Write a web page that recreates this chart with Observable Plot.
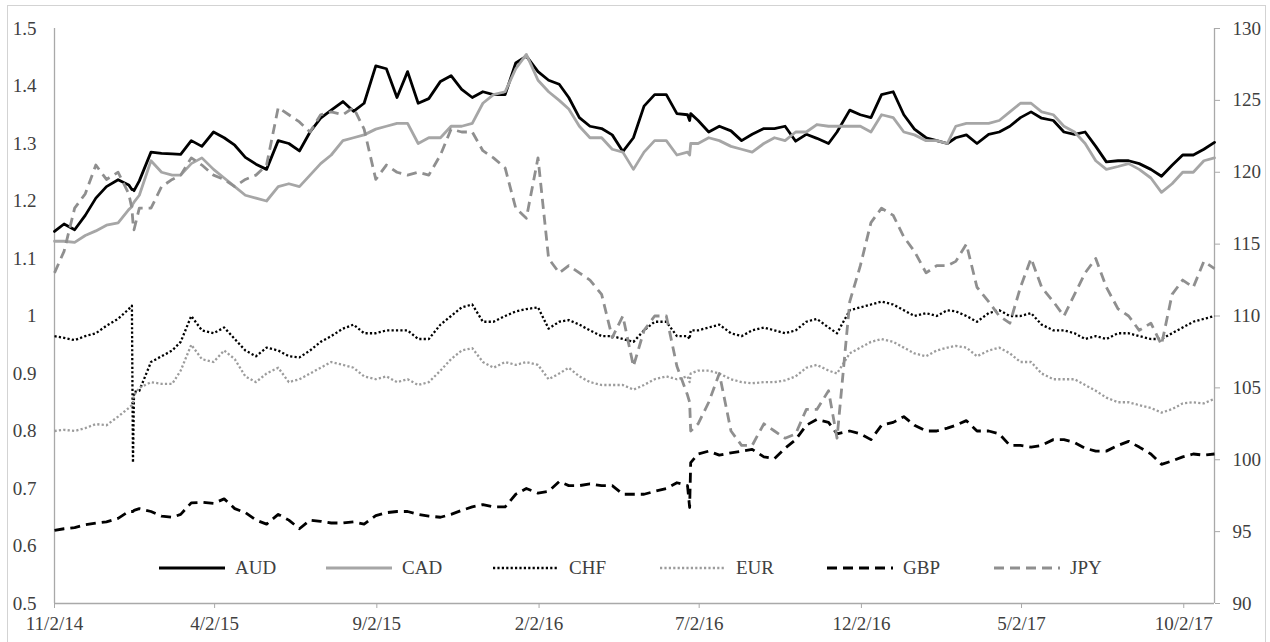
<!DOCTYPE html>
<html>
<head>
<meta charset="utf-8">
<script src="https://cdn.jsdelivr.net/npm/d3@7"></script>
<script src="https://cdn.jsdelivr.net/npm/@observablehq/plot@0.6"></script>
<style>
  html, body { margin: 0; padding: 0; background: #fff; }
  #wrap { position: relative; width: 1270px; height: 642px; overflow: hidden; font-family: "Liberation Serif", "DejaVu Serif", serif; }
  #chart svg { display: block; }
  #frame { position: absolute; left: 7px; top: 5px; width: 1259px; height: 640px; border: 1px solid #d3d3d3; box-sizing: border-box; pointer-events: none; }
  #legend { position: absolute; left: 158px; top: 556px; display: flex; pointer-events: none; }
  .item { display: flex; align-items: center; width: 167px; font-size: 19px; color: #404040; }
  .item svg { display: block; margin-right: 9px; }
</style>
</head>
<body>
<div id="wrap">
  <div id="chart"></div>
  <div id="legend"></div>
  <div id="frame"></div>
</div>
<script>
// ---- data ----
const dates = [
"2014-11-02","2014-11-11","2014-11-21","2014-12-01","2014-12-11","2014-12-21",
"2015-01-01","2015-01-11","2015-01-14","2015-01-15","2015-01-16","2015-01-21",
"2015-02-01","2015-02-11","2015-02-21","2015-03-01","2015-03-11","2015-03-21",
"2015-04-01","2015-04-11","2015-04-21","2015-05-01","2015-05-11","2015-05-21",
"2015-06-01","2015-06-11","2015-06-21","2015-07-01","2015-07-11","2015-07-21",
"2015-08-01","2015-08-11","2015-08-21","2015-09-01","2015-09-11","2015-09-21",
"2015-10-01","2015-10-11","2015-10-21","2015-11-01","2015-11-11","2015-11-21",
"2015-12-01","2015-12-11","2015-12-21","2016-01-01","2016-01-11","2016-01-21",
"2016-02-01","2016-02-11","2016-02-21","2016-03-01","2016-03-11","2016-03-21",
"2016-04-01","2016-04-11","2016-04-21","2016-05-01","2016-05-11","2016-05-21",
"2016-06-01","2016-06-11","2016-06-21","2016-06-23","2016-06-24","2016-07-01",
"2016-07-11","2016-07-21","2016-08-01","2016-08-11","2016-08-21","2016-09-01",
"2016-09-11","2016-09-21","2016-10-01","2016-10-11","2016-10-21","2016-11-01",
"2016-11-09","2016-11-21","2016-12-01","2016-12-11","2016-12-21","2017-01-01",
"2017-01-11","2017-01-21","2017-02-01","2017-02-11","2017-02-21","2017-03-01",
"2017-03-11","2017-03-21","2017-04-01","2017-04-11","2017-04-21","2017-05-01",
"2017-05-11","2017-05-21","2017-06-01","2017-06-11","2017-06-21","2017-07-01",
"2017-07-11","2017-07-21","2017-08-01","2017-08-11","2017-08-21","2017-09-01",
"2017-09-11","2017-09-21","2017-10-01","2017-10-11","2017-10-21","2017-10-31"
];

const aud = [
1.147,1.16,1.15,1.175,1.205,1.225,
1.237,1.228,1.22,1.22,1.218,1.235,
1.285,1.283,1.282,1.281,1.305,1.295,
1.32,1.31,1.297,1.276,1.264,1.255,
1.305,1.30,1.287,1.32,1.344,1.358,
1.373,1.356,1.37,1.435,1.43,1.38,
1.425,1.37,1.378,1.408,1.418,1.394,
1.38,1.39,1.385,1.385,1.44,1.452,
1.425,1.41,1.403,1.38,1.345,1.33,
1.326,1.315,1.286,1.31,1.365,1.385,
1.385,1.352,1.35,1.34,1.352,1.34,
1.32,1.33,1.322,1.305,1.316,1.326,
1.326,1.33,1.304,1.316,1.309,1.30,
1.32,1.358,1.35,1.345,1.385,1.39,
1.35,1.325,1.31,1.305,1.30,1.31,
1.315,1.30,1.316,1.32,1.33,1.345,
1.355,1.344,1.34,1.32,1.316,1.32,
1.295,1.268,1.27,1.27,1.265,1.255,
1.243,1.262,1.28,1.28,1.29,1.302
];

const cad = [
1.13,1.13,1.128,1.14,1.148,1.158,
1.162,1.185,1.19,1.195,1.198,1.21,
1.27,1.25,1.245,1.245,1.265,1.275,
1.255,1.24,1.225,1.21,1.205,1.20,
1.225,1.23,1.225,1.245,1.265,1.28,
1.305,1.31,1.315,1.325,1.33,1.335,
1.335,1.30,1.31,1.31,1.33,1.33,
1.335,1.37,1.385,1.39,1.43,1.455,
1.41,1.39,1.375,1.36,1.33,1.31,
1.31,1.29,1.285,1.255,1.285,1.305,
1.305,1.28,1.285,1.28,1.30,1.30,
1.31,1.305,1.295,1.29,1.285,1.30,
1.31,1.305,1.32,1.32,1.333,1.33,
1.33,1.33,1.33,1.32,1.35,1.345,
1.32,1.315,1.305,1.305,1.30,1.33,
1.335,1.335,1.335,1.34,1.355,1.37,
1.37,1.355,1.35,1.33,1.32,1.30,
1.27,1.255,1.26,1.265,1.255,1.24,
1.215,1.23,1.25,1.25,1.27,1.275
];

const chf = [
0.965,0.962,0.958,0.965,0.97,0.983,
0.995,1.012,1.018,0.745,0.868,0.87,
0.92,0.93,0.94,0.955,1.0,0.975,
0.97,0.98,0.96,0.94,0.93,0.945,
0.94,0.93,0.928,0.94,0.955,0.965,
0.978,0.985,0.97,0.97,0.975,0.975,
0.975,0.96,0.96,0.985,1.0,1.015,
1.02,0.99,0.99,1.0,1.008,1.012,
1.015,0.978,0.99,0.993,0.985,0.975,
0.965,0.965,0.96,0.955,0.975,0.99,
0.99,0.965,0.965,0.96,0.975,0.975,
0.98,0.985,0.97,0.965,0.975,0.98,
0.975,0.97,0.975,0.99,0.995,0.98,
0.97,1.01,1.015,1.02,1.025,1.02,
1.01,1.0,1.005,1.0,1.01,1.008,
1.0,0.99,1.005,1.01,1.0,1.0,
1.005,0.985,0.975,0.975,0.97,0.96,
0.965,0.96,0.97,0.97,0.965,0.96,
0.96,0.97,0.98,0.99,0.995,1.0
];

const eur = [
0.80,0.802,0.80,0.805,0.812,0.81,
0.825,0.84,0.845,0.85,0.862,0.875,
0.885,0.882,0.882,0.905,0.95,0.925,
0.92,0.94,0.925,0.895,0.885,0.90,
0.91,0.885,0.89,0.90,0.91,0.92,
0.915,0.91,0.895,0.89,0.895,0.885,
0.89,0.88,0.885,0.905,0.925,0.94,
0.944,0.92,0.91,0.92,0.915,0.92,
0.915,0.89,0.90,0.91,0.895,0.885,
0.88,0.88,0.88,0.872,0.88,0.89,
0.895,0.89,0.895,0.885,0.90,0.905,
0.905,0.90,0.89,0.885,0.883,0.885,
0.885,0.888,0.895,0.91,0.915,0.905,
0.90,0.935,0.945,0.955,0.96,0.955,
0.945,0.935,0.93,0.94,0.945,0.948,
0.945,0.93,0.94,0.945,0.935,0.92,
0.92,0.90,0.89,0.89,0.89,0.88,
0.87,0.858,0.85,0.85,0.845,0.84,
0.832,0.838,0.848,0.85,0.848,0.856
];

const gbp = [
0.627,0.63,0.632,0.637,0.64,0.642,
0.648,0.66,0.66,0.66,0.662,0.665,
0.66,0.652,0.65,0.655,0.675,0.676,
0.674,0.682,0.665,0.658,0.645,0.638,
0.655,0.645,0.63,0.645,0.643,0.64,
0.64,0.642,0.638,0.653,0.658,0.66,
0.66,0.655,0.652,0.65,0.655,0.662,
0.668,0.672,0.668,0.668,0.69,0.70,
0.692,0.695,0.712,0.705,0.705,0.708,
0.705,0.705,0.69,0.69,0.69,0.695,
0.70,0.71,0.705,0.667,0.745,0.76,
0.765,0.758,0.762,0.765,0.768,0.755,
0.752,0.77,0.785,0.81,0.82,0.815,
0.795,0.80,0.795,0.785,0.81,0.815,
0.825,0.81,0.80,0.80,0.805,0.81,
0.818,0.80,0.80,0.795,0.775,0.775,
0.772,0.775,0.785,0.785,0.78,0.77,
0.765,0.765,0.775,0.782,0.772,0.76,
0.742,0.748,0.755,0.76,0.758,0.76
];

// JPY is read on the right-hand axis
const jpy = [
113.0,114.5,117.5,118.5,120.5,119.5,
120.0,118.5,117.5,116.5,116.0,117.5,
117.5,119.0,119.5,119.8,121.0,120.5,
119.8,119.5,119.0,119.5,119.8,120.5,
124.5,124.0,123.5,122.8,124.0,124.2,
124.0,124.5,123.0,119.5,120.5,120.0,
119.8,120.0,119.8,121.2,123.0,122.8,
122.8,121.5,121.0,120.3,117.5,116.8,
121.0,114.0,113.0,113.5,113.0,112.5,
111.5,108.5,110.0,106.5,109.0,110.0,
110.0,106.5,104.5,104.0,102.0,102.5,
104.0,106.0,102.0,101.0,101.0,102.5,
102.0,101.5,101.8,103.5,103.5,104.8,
101.5,111.0,113.5,116.5,117.5,117.0,
115.5,114.5,113.0,113.5,113.5,113.8,
115.0,112.0,111.0,110.0,109.5,112.0,
114.0,112.0,111.0,110.0,111.5,113.0,
114.0,112.0,110.5,110.0,109.0,109.5,
108.0,111.5,112.5,112.0,113.8,113.3
];

const leftTicks = [0.5,0.6,0.7,0.8,0.9,1.0,1.1,1.2,1.3,1.4,1.5];
const rightTicks = [90,95,100,105,110,115,120,125,130];
const xTickDates = ["2014-11-02","2015-04-02","2015-09-02","2016-02-02","2016-07-02","2016-12-02","2017-05-02","2017-10-02"];
const xTickLabels = ["11/2/14","4/2/15","9/2/15","2/2/16","7/2/16","12/2/16","5/2/17","10/2/17"];
const xDomain = ["2014-11-02","2017-10-31"];
const leftDomain = [0.5, 1.5];
const rightDomain = [90, 130];

// ---- build ----
const parse = d3.utcParse("%Y-%m-%d");
const toLeft = v => leftDomain[0] + (v - rightDomain[0]) / (rightDomain[1] - rightDomain[0]) * (leftDomain[1] - leftDomain[0]);
const fromLeft = v => rightDomain[0] + (v - leftDomain[0]) / (leftDomain[1] - leftDomain[0]) * (rightDomain[1] - rightDomain[0]);

const series = [
  {name: "AUD", values: aud, right: false, stroke: "#000000", width: 2.8, dash: null},
  {name: "CAD", values: cad, right: false, stroke: "#a6a6a6", width: 2.8, dash: null},
  {name: "CHF", values: chf, right: false, stroke: "#000000", width: 2.3, dash: "2.2 2.2"},
  {name: "EUR", values: eur, right: false, stroke: "#9c9c9c", width: 2.3, dash: "2.2 2.2"},
  {name: "GBP", values: gbp, right: false, stroke: "#000000", width: 2.8, dash: "10 6"},
  {name: "JPY", values: jpy, right: true,  stroke: "#8f8f8f", width: 2.8, dash: "10 6"}
];

const tickLabelMap = new Map(xTickDates.map((t, i) => [+parse(t), xTickLabels[i]]));
const axisGray = "#a9a9a9";
const textColor = "#404040";

const lineMarks = series.map(s => {
  const rows = s.values.map((v, i) => ({date: parse(dates[i]), y: s.right ? toLeft(v) : v}));
  return Plot.line(rows, {
    x: "date", y: "y",
    stroke: s.stroke, strokeWidth: s.width,
    strokeDasharray: s.dash || undefined,
    strokeLinejoin: "round", strokeLinecap: s.dash ? "butt" : "round"
  });
});

const chart = Plot.plot({
  width: 1270,
  height: 642,
  marginLeft: 54,
  marginRight: 56,
  marginTop: 28,
  marginBottom: 39,
  style: {fontFamily: "'Liberation Serif', 'DejaVu Serif', serif", fontSize: "19px", background: "transparent", color: textColor},
  x: {type: "utc", domain: xDomain.map(parse), label: null},
  y: {domain: leftDomain, label: null},
  marks: [
    Plot.ruleY([leftDomain[0]], {stroke: axisGray, strokeWidth: 1.3}),
    Plot.ruleX(xDomain.map(parse), {stroke: axisGray, strokeWidth: 1.3}),
    Plot.axisX({
      ticks: xTickDates.map(parse),
      tickFormat: d => tickLabelMap.get(+d),
      tickSize: 5, tickPadding: 8,
      stroke: axisGray, fill: textColor, fontSize: 19, label: null
    }),
    Plot.axisY({
      anchor: "left", ticks: leftTicks,
      tickFormat: d => String(Math.round(d * 10) / 10),
      tickSize: 0, tickPadding: 18,
      fill: textColor, fontSize: 19, label: null
    }),
    Plot.axisY({
      anchor: "right", ticks: rightTicks.map(toLeft),
      tickFormat: d => String(Math.round(fromLeft(d))),
      tickSize: 5, tickPadding: 13,
      stroke: axisGray, fill: textColor, fontSize: 19, label: null
    }),
    ...lineMarks
  ]
});
document.getElementById("chart").appendChild(chart);

// ---- legend (HTML, inside plot area like the original) ----
const legend = document.getElementById("legend");
for (const s of series) {
  const item = document.createElement("div");
  item.className = "item";
  const ns = "http://www.w3.org/2000/svg";
  const svg = document.createElementNS(ns, "svg");
  svg.setAttribute("width", 68);
  svg.setAttribute("height", 24);
  const ln = document.createElementNS(ns, "line");
  ln.setAttribute("x1", 1); ln.setAttribute("x2", 67);
  ln.setAttribute("y1", 12); ln.setAttribute("y2", 12);
  ln.setAttribute("stroke", s.stroke);
  ln.setAttribute("stroke-width", s.width);
  if (s.dash) ln.setAttribute("stroke-dasharray", s.dash);
  svg.appendChild(ln);
  item.appendChild(svg);
  const t = document.createElement("span");
  t.textContent = s.name;
  item.appendChild(t);
  legend.appendChild(item);
}
</script>
</body>
</html>
